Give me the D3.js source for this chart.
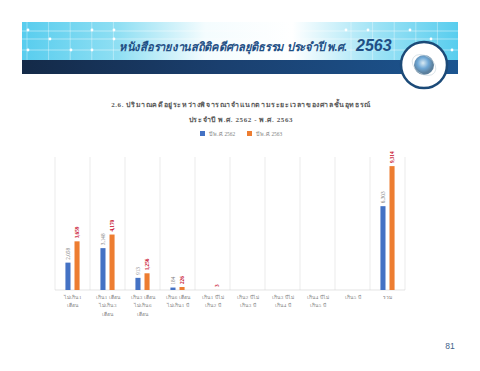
<!DOCTYPE html>
<html>
<head>
<meta charset="utf-8">
<script src="https://cdn.jsdelivr.net/npm/d3@7"></script>
<style>
  html, body { margin: 0; padding: 0; background: #fff; }
  text { font-family: "Liberation Serif", "Noto Sans", "DejaVu Sans", serif; }
</style>
</head>
<body>
<svg id="page" width="480" height="371"></svg>
<script>
const categories = [
  ["ไม่เกิน 1", "เดือน"],
  ["เกิน 1 เดือน", "ไม่เกิน 3", "เดือน"],
  ["เกิน 3 เดือน", "ไม่เกิน 6", "เดือน"],
  ["เกิน 6 เดือน", "ไม่เกิน 1 ปี"],
  ["เกิน 1 ปีไม่", "เกิน 2 ปี"],
  ["เกิน 2 ปีไม่", "เกิน 3 ปี"],
  ["เกิน 3 ปีไม่", "เกิน 4 ปี"],
  ["เกิน 4 ปีไม่", "เกิน 5 ปี"],
  ["เกิน 5 ปี"],
  ["รวม"]
];
const values2562 = [2058, 3148, 913, 184, null, null, null, null, null, 6303];
const values2563 = [3659, 4170, 1256, 226, 3, null, null, null, null, 9314];
const seriesNames = ["ปี พ.ศ. 2562", "ปี พ.ศ. 2563"];
const seriesColors = ["#4472c4", "#ed7d31"];
const labelColors = ["#7f7f7f", "#c8102e"];
const titleLines = [
  "2.6. ปริมาณคดีอยู่ระหว่างพิจารณาจำแนกตามระยะเวลาของศาลชั้นอุทธรณ์",
  "ประจำปี พ.ศ. 2562 - พ.ศ. 2563"
];
const bannerTitle = "หนังสือรายงานสถิติคดีศาลยุติธรรม ประจำปี พ.ศ.";
const bannerYear = "2563";
const pageNumber = "81";

const svg = d3.select("#page");
const defs = svg.append("defs");

// Banner gradients
const light = defs.append("linearGradient").attr("id", "bannerLight");
light.append("stop").attr("offset", "0%").attr("stop-color", "#58cdee");
light.append("stop").attr("offset", "22%").attr("stop-color", "#8fdff3");
light.append("stop").attr("offset", "42%").attr("stop-color", "#f4fcfe");
light.append("stop").attr("offset", "62%").attr("stop-color", "#ffffff");
light.append("stop").attr("offset", "82%").attr("stop-color", "#9be2f5");
light.append("stop").attr("offset", "100%").attr("stop-color", "#58cdee");

const dark = defs.append("linearGradient").attr("id", "bannerDark");
dark.append("stop").attr("offset", "0%").attr("stop-color", "#142a48");
dark.append("stop").attr("offset", "45%").attr("stop-color", "#1a3f6e");
dark.append("stop").attr("offset", "100%").attr("stop-color", "#1c5590");

const globe = defs.append("radialGradient").attr("id", "globe")
  .attr("cx", "45%").attr("cy", "40%");
globe.append("stop").attr("offset", "0%").attr("stop-color", "#d9eaf3");
globe.append("stop").attr("offset", "55%").attr("stop-color", "#6fa8d6");
globe.append("stop").attr("offset", "100%").attr("stop-color", "#5b7f9c");

// Banner
const banner = svg.append("g");
banner.append("rect").attr("x", 22).attr("y", 22).attr("width", 436).attr("height", 39)
  .attr("fill", "url(#bannerLight)");

const gridX = d3.range(27, 458, 21.6);
const gridY = [31, 39, 50];
banner.selectAll(".grid-x").data(gridX).enter().append("line")
  .attr("x1", d => d).attr("x2", d => d).attr("y1", 22).attr("y2", 60)
  .attr("stroke", "#fff").attr("stroke-opacity", d => (d > 130 && d < 340) ? 0 : 0.35);
banner.selectAll(".grid-y").data(gridY).enter().append("line")
  .attr("x1", 22).attr("x2", 458).attr("y1", d => d).attr("y2", d => d)
  .attr("stroke", "#fff").attr("stroke-opacity", 0.45);

const sparks = [[28, 30], [28, 50], [50, 39], [71, 50], [92, 30], [92, 50], [114, 30], [114, 39], [346, 30], [368, 30], [410, 30], [431, 39], [452, 50]];
banner.selectAll(".spark").data(sparks).enter().append("circle")
  .attr("cx", d => d[0]).attr("cy", d => d[1]).attr("r", 1.4).attr("fill", "#fff");

banner.append("rect").attr("x", 22).attr("y", 60).attr("width", 436).attr("height", 14)
  .attr("fill", "url(#bannerDark)");

const bannerLabel = banner.append("text")
  .attr("fill", "#1f4f85").attr("font-style", "italic").attr("font-weight", 700)
  .attr("font-size", 12)
  .text(bannerTitle);
// squeeze the Thai line to the width it has in the picture
const bannerScale = 230 / bannerLabel.node().getComputedTextLength();
bannerLabel.attr("transform", `translate(119,51) scale(${bannerScale},1)`);
banner.append("text").attr("x", 356).attr("y", 51)
  .attr("fill", "#1f4f85").attr("font-style", "italic").attr("font-weight", 700)
  .attr("font-size", 16).style("font-family", "'Liberation Sans', sans-serif")
  .text(bannerYear);

banner.append("circle").attr("cx", 424).attr("cy", 65).attr("r", 23)
  .attr("fill", "#fff").attr("stroke", "#1b4a78").attr("stroke-width", 2.5);
banner.append("circle").attr("cx", 424).attr("cy", 65).attr("r", 10)
  .attr("fill", "url(#globe)");
banner.append("ellipse").attr("cx", 424).attr("cy", 65).attr("rx", 13).attr("ry", 9)
  .attr("transform", "rotate(35 424 65)")
  .attr("fill", "none").attr("stroke", "#c9d6de").attr("stroke-width", 0.6);

// Chart title
svg.append("g").selectAll("text").data(titleLines).enter().append("text")
  .attr("x", 241).attr("y", (d, i) => 107 + i * 14.5)
  .attr("text-anchor", "middle").attr("font-size", 7).attr("font-weight", 700)
  .attr("fill", "#595959").attr("letter-spacing", 0.6)
  .text(d => d);

// Legend
const legend = svg.append("g").selectAll("g").data(seriesNames).enter().append("g")
  .attr("transform", (d, i) => `translate(${200 + i * 47},131)`);
legend.append("rect").attr("y", 0).attr("width", 5).attr("height", 5)
  .attr("fill", (d, i) => seriesColors[i]);
legend.append("text").attr("x", 9).attr("y", 5).attr("font-size", 5.4)
  .attr("fill", "#7f7f7f").text(d => d);

// Chart
const margin = {left: 55, right: 75, top: 157, bottom: 81};
const x = d3.scaleBand().domain(d3.range(categories.length))
  .range([margin.left, 480 - margin.right]);
const inner = d3.scaleBand().domain([0, 1]).range([0, x.bandwidth()])
  .paddingInner(0.44).paddingOuter(1.15);
const y = d3.scaleLinear().domain([0, 10000]).range([371 - margin.bottom, margin.top]);

const chart = svg.append("g");
const separators = d3.range(categories.length + 1).map(i => margin.left + i * x.step());
chart.selectAll(".sep").data(separators).enter().append("line")
  .attr("x1", d => d).attr("x2", d => d).attr("y1", y.range()[1]).attr("y2", y.range()[0])
  .attr("stroke", "#e3e3e3").attr("stroke-width", 0.7);
chart.append("line")
  .attr("x1", x.range()[0]).attr("x2", x.range()[1])
  .attr("y1", y(0)).attr("y2", y(0))
  .attr("stroke", "#d9d9d9").attr("stroke-width", 0.7);

[values2562, values2563].forEach((values, s) => {
  const points = values.map((v, i) => ({v, i})).filter(d => d.v !== null);
  chart.selectAll(`.bar-${s}`).data(points).enter().append("rect")
    .attr("x", d => x(d.i) + inner(s))
    .attr("y", d => y(d.v))
    .attr("width", inner.bandwidth())
    .attr("height", d => y(0) - y(d.v))
    .attr("fill", seriesColors[s]);
  chart.selectAll(`.label-${s}`).data(points).enter().append("text")
    .attr("transform", d => `translate(${x(d.i) + inner(s) + inner.bandwidth() / 2 + 1.6},${y(d.v) - 3}) rotate(-90)`)
    .attr("font-size", 5.2)
    .attr("font-weight", s === 1 ? 700 : 400)
    .attr("fill", labelColors[s])
    .text(d => d3.format(",")(d.v));
});

// Category labels
const catLabels = chart.selectAll(".cat").data(categories).enter().append("text")
  .attr("text-anchor", "middle").attr("font-size", 5).attr("fill", "#7f7f7f");
catLabels.selectAll("tspan").data((d, i) => d.map(t => ({t, i}))).enter().append("tspan")
  .attr("x", d => x(d.i) + x.bandwidth() / 2)
  .attr("y", (d, j) => 299 + j * 8.4)
  .text(d => d.t);

// Page number
svg.append("text").attr("x", 450).attr("y", 349).attr("text-anchor", "middle")
  .style("font-family", "'Liberation Sans', sans-serif")
  .attr("font-size", 8.5).attr("fill", "#3f5f8a").text(pageNumber);
</script>
</body>
</html>
